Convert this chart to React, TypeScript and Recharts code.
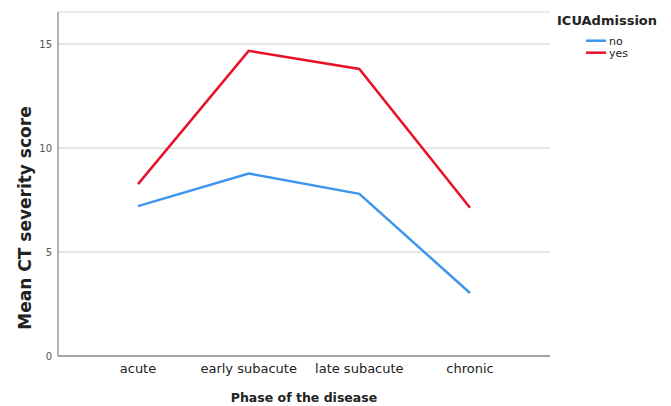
import { CartesianGrid, Line, LineChart, XAxis, YAxis } from "recharts";

const phases = ["acute", "early subacute", "late subacute", "chronic"];
const noIcu = [7.21, 8.78, 7.8, 3.03];
const yesIcu = [8.27, 14.68, 13.81, 7.13];
const yTicks = [0, 5, 10, 15];

const BLUE = "#3d95ee";
const RED = "#e8112d";
const FONT = "'DejaVu Sans', sans-serif";

const rows = phases.map((phase, i) => ({ phase, no: noIcu[i], yes: yesIcu[i] }));

const series = [
  { key: "no", color: BLUE },
  { key: "yes", color: RED },
];

function YTitle() {
  return (
    <text
      transform="translate(31,218) rotate(-90)"
      textAnchor="middle"
      fontFamily={FONT}
      fontWeight="bold"
      fontSize={17}
      fill="#222"
    >
      Mean CT severity score
    </text>
  );
}

// legend drawn as an overlay so it doesn't eat into the plot margins
function LegendBox() {
  return (
    <svg
      width={114}
      height={60}
      style={{ position: "absolute", left: 557, top: 0, display: "block" }}
    >
      <text x={0} y={25} fontFamily={FONT} fontWeight="bold" fontSize={13} fill="#222">
        ICUAdmission
      </text>
      {series.map((s, i) => (
        <g key={s.key}>
          <line x1={29} x2={49} y1={40.7 + i * 12} y2={40.7 + i * 12} stroke={s.color} strokeWidth={2.5} />
          <text x={52} y={44.5 + i * 12} fontFamily={FONT} fontSize={11} fill="#222">
            {s.key}
          </text>
        </g>
      ))}
    </svg>
  );
}

export default function App() {
  return (
    <div style={{ position: "absolute", left: 0, top: 0, width: 671, height: 406, background: "#fff" }}>
      <LineChart
        width={671}
        height={406}
        data={rows}
        margin={{ top: 12, right: 121, bottom: 0, left: 0 }}
        style={{ fontFamily: FONT }}
      >
        <CartesianGrid vertical={false} stroke="#d6d6d6" strokeWidth={1.2} />
        <XAxis
          dataKey="phase"
          height={50}
          padding={{ left: 80, right: 80 }}
          tickLine={false}
          tickSize={0}
          tickMargin={8}
          stroke="#8a8a8a"
          strokeWidth={1.3}
          tick={{ fill: "#222", fontSize: 13 }}
          label={{
            value: "Phase of the disease",
            position: "insideBottom",
            offset: 4,
            fill: "#222",
            fontSize: 12.5,
            fontWeight: "bold",
          }}
        />
        <YAxis
          width={58}
          domain={[0, 16.55]}
          ticks={yTicks}
          tickLine={false}
          tickSize={0}
          tickMargin={6}
          stroke="#8a8a8a"
          strokeWidth={1.3}
          tick={{ fill: "#555", fontSize: 10 }}
          label={<YTitle />}
        />
        {series.map((s) => (
          <Line
            key={s.key}
            dataKey={s.key}
            stroke={s.color}
            strokeWidth={2.5}
            dot={false}
            activeDot={false}
            isAnimationActive={false}
          />
        ))}
      </LineChart>
      <LegendBox />
    </div>
  );
}
